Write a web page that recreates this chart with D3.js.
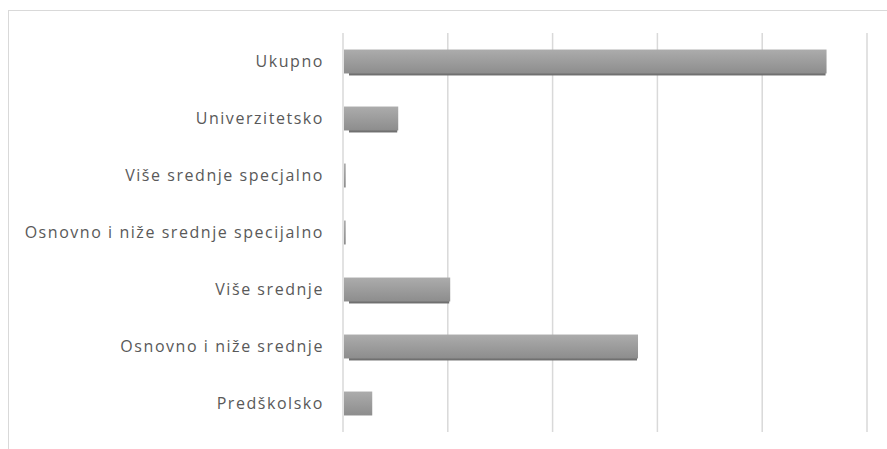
<!DOCTYPE html>
<meta charset="utf-8">
<title>Obrazovanje</title>
<style>
body { margin: 0; background: #fff; }
svg { display: block; }
.label { font-family: "Open Sans", sans-serif; font-size: 16px; letter-spacing: 1.55px; fill: #595959; }
</style>
<body>
<script src="https://d3js.org/d3.v7.min.js"></script>
<script>

let categories = [
  "Ukupno",
  "Univerzitetsko",
  "Više srednje specjalno",
  "Osnovno i niže srednje specijalno",
  "Više srednje",
  "Osnovno i niže srednje",
  "Predškolsko"
];
let values = [46140, 5270, 260, 260, 10230, 28150, 2790];
let gridTicks = [0, 10000, 20000, 30000, 40000, 50000];

let W = 887, H = 449;
let margin = { top: 33, right: 20, bottom: 17, left: 343 };
let width = 867 - margin.left;
let height = H - margin.top - margin.bottom;

let svg = d3.select('body').append('svg')
    .attr('width', W)
    .attr('height', H);

// chart frame
svg.append('rect')
    .attr('x', 8.5).attr('y', 10.5)
    .attr('width', W).attr('height', H)
    .attr('fill', 'none')
    .attr('stroke', '#d9d9d9');

let defs = svg.append('defs');
let grad = defs.append('linearGradient')
    .attr('id', 'barGrad')
    .attr('x1', 0).attr('y1', 0).attr('x2', 0).attr('y2', 1);
grad.append('stop').attr('offset', '0%').attr('stop-color', '#acacac');
grad.append('stop').attr('offset', '100%').attr('stop-color', '#8d8d8d');

let g = svg.append('g')
    .attr('transform', `translate(${margin.left},${margin.top})`);

let x = d3.scaleLinear().domain([0, 50000]).range([0, width]);
let y = d3.scaleBand().domain(categories).range([0, height]).paddingInner(0.58).paddingOuter(0.29);

g.selectAll('.grid')
    .data(gridTicks)
    .enter().append('line')
        .attr('class', 'grid')
        .attr('x1', d => x(d)).attr('x2', d => x(d))
        .attr('y1', 0).attr('y2', height)
        .attr('stroke', '#d9d9d9')
        .attr('stroke-width', 1.5);

let rows = categories.map((c, i) => ({ name: c, value: values[i] }));

// shadow under the longer bars
g.selectAll('.shadow')
    .data(rows.filter(d => x(d.value) > 40))
    .enter().append('rect')
        .attr('class', 'shadow')
        .attr('x', 6)
        .attr('y', d => y(d.name) + y.bandwidth() - 1)
        .attr('width', d => x(d.value) - 7)
        .attr('height', 3)
        .attr('fill', '#707070');

g.selectAll('.bar')
    .data(rows)
    .enter().append('rect')
        .attr('class', 'bar')
        .attr('x', 1)
        .attr('y', d => y(d.name))
        .attr('width', d => Math.max(x(d.value) - 1, 1))
        .attr('height', y.bandwidth())
        .attr('fill', 'url(#barGrad)');

g.selectAll('.label')
    .data(rows)
    .enter().append('text')
        .attr('class', 'label')
        .attr('x', -19)
        .attr('y', d => y(d.name) + y.bandwidth() / 2)
        .attr('dy', '0.35em')
        .attr('text-anchor', 'end')
        .text(d => d.name);

</script>
</body>
